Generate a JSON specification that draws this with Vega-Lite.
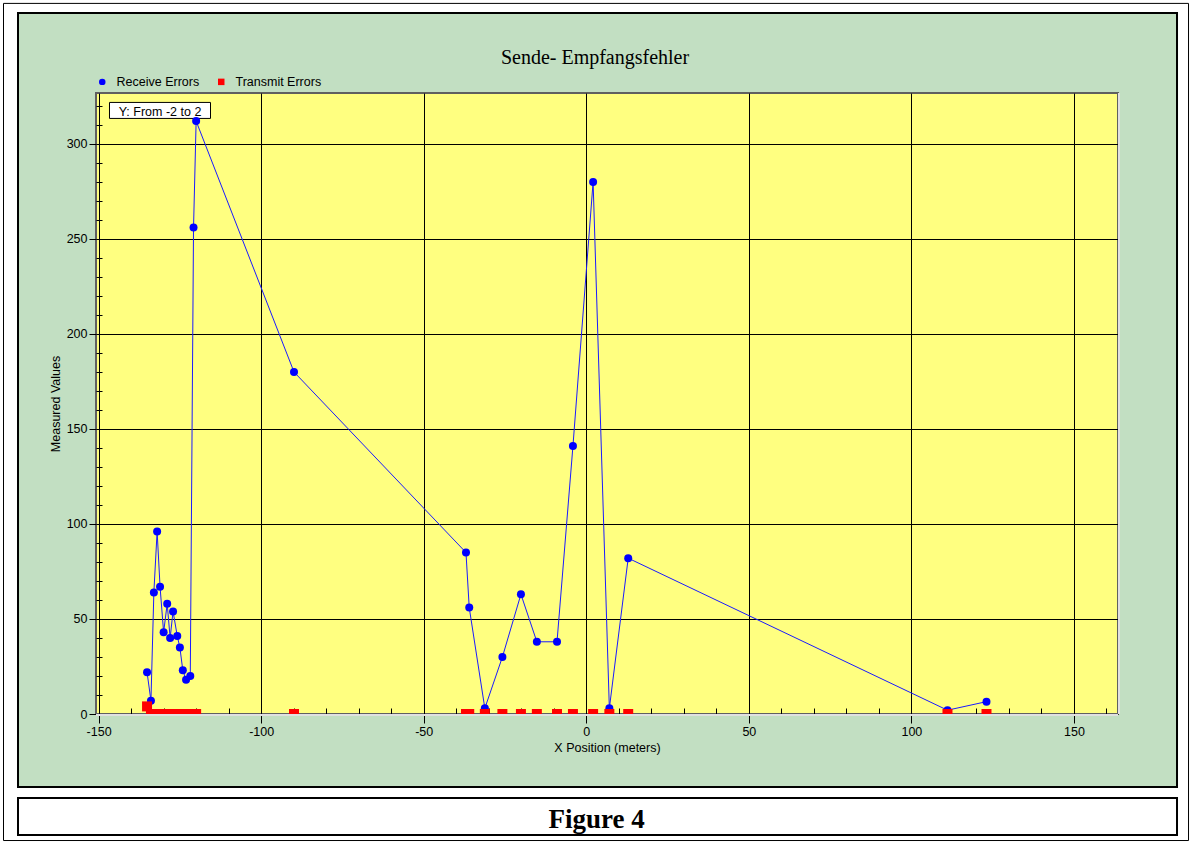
{
  "$schema": "https://vega.github.io/schema/vega-lite/v6.json",
  "width": 1022,
  "height": 621,
  "autosize": {"type": "none"},
  "padding": {"left": 96, "top": 93, "right": 74, "bottom": 129},
  "background": "#c2dfc2",
  "config": {
    "view": {"fill": "#ffff80", "stroke": "#606060", "strokeWidth": 2},
    "font": "Liberation Sans"
  },
  "datasets": {
    "receive": [
      {"x": -135.1, "value": 22, "series": "Receive Errors"},
      {"x": -133.9, "value": 7, "series": "Receive Errors"},
      {"x": -133.0, "value": 64, "series": "Receive Errors"},
      {"x": -132.0, "value": 96, "series": "Receive Errors"},
      {"x": -131.1, "value": 67, "series": "Receive Errors"},
      {"x": -130.0, "value": 43, "series": "Receive Errors"},
      {"x": -128.9, "value": 58, "series": "Receive Errors"},
      {"x": -128.0, "value": 40, "series": "Receive Errors"},
      {"x": -127.1, "value": 54, "series": "Receive Errors"},
      {"x": -125.8, "value": 41, "series": "Receive Errors"},
      {"x": -125.0, "value": 35, "series": "Receive Errors"},
      {"x": -124.1, "value": 23, "series": "Receive Errors"},
      {"x": -123.1, "value": 18, "series": "Receive Errors"},
      {"x": -121.8, "value": 20, "series": "Receive Errors"},
      {"x": -120.8, "value": 256, "series": "Receive Errors"},
      {"x": -120.0, "value": 312, "series": "Receive Errors"},
      {"x": -89.9, "value": 180, "series": "Receive Errors"},
      {"x": -37.0, "value": 85, "series": "Receive Errors"},
      {"x": -36.0, "value": 56, "series": "Receive Errors"},
      {"x": -31.2, "value": 3, "series": "Receive Errors"},
      {"x": -25.8, "value": 30, "series": "Receive Errors"},
      {"x": -20.1, "value": 63, "series": "Receive Errors"},
      {"x": -15.2, "value": 38, "series": "Receive Errors"},
      {"x": -9.0, "value": 38, "series": "Receive Errors"},
      {"x": -4.1, "value": 141, "series": "Receive Errors"},
      {"x": 2.1, "value": 280, "series": "Receive Errors"},
      {"x": 7.1, "value": 3, "series": "Receive Errors"},
      {"x": 12.9, "value": 82, "series": "Receive Errors"},
      {"x": 111.1, "value": 2, "series": "Receive Errors"},
      {"x": 123.1, "value": 6.5, "series": "Receive Errors"}
    ],
    "transmit": [
      {"x": -135.1, "value": 4, "series": "Transmit Errors"},
      {"x": -133.9, "value": 0, "series": "Transmit Errors"},
      {"x": -133.0, "value": 0, "series": "Transmit Errors"},
      {"x": -132.0, "value": 0, "series": "Transmit Errors"},
      {"x": -131.1, "value": 0, "series": "Transmit Errors"},
      {"x": -130.0, "value": 0, "series": "Transmit Errors"},
      {"x": -128.9, "value": 0, "series": "Transmit Errors"},
      {"x": -128.0, "value": 0, "series": "Transmit Errors"},
      {"x": -127.1, "value": 0, "series": "Transmit Errors"},
      {"x": -125.8, "value": 0, "series": "Transmit Errors"},
      {"x": -125.0, "value": 0, "series": "Transmit Errors"},
      {"x": -124.1, "value": 0, "series": "Transmit Errors"},
      {"x": -123.1, "value": 0, "series": "Transmit Errors"},
      {"x": -121.8, "value": 0, "series": "Transmit Errors"},
      {"x": -120.8, "value": 0, "series": "Transmit Errors"},
      {"x": -120.0, "value": 0, "series": "Transmit Errors"},
      {"x": -89.9, "value": 0, "series": "Transmit Errors"},
      {"x": -37.0, "value": 0, "series": "Transmit Errors"},
      {"x": -36.0, "value": 0, "series": "Transmit Errors"},
      {"x": -31.2, "value": 0, "series": "Transmit Errors"},
      {"x": -25.8, "value": 0, "series": "Transmit Errors"},
      {"x": -20.1, "value": 0, "series": "Transmit Errors"},
      {"x": -15.2, "value": 0, "series": "Transmit Errors"},
      {"x": -9.0, "value": 0, "series": "Transmit Errors"},
      {"x": -4.1, "value": 0, "series": "Transmit Errors"},
      {"x": 2.1, "value": 0, "series": "Transmit Errors"},
      {"x": 7.1, "value": 0, "series": "Transmit Errors"},
      {"x": 12.9, "value": 0, "series": "Transmit Errors"},
      {"x": 111.1, "value": 0, "series": "Transmit Errors"},
      {"x": 123.1, "value": 0, "series": "Transmit Errors"}
    ]
  },
  "layer": [
    {
      "data": {"values": [{}]},
      "mark": {"type": "rect", "fill": "#ffffff", "stroke": "#000000", "strokeWidth": 1},
      "encoding": {
        "x": {"datum": -146.65, "type": "quantitative"},
        "x2": {"datum": -115.58},
        "y": {"datum": 321.84, "type": "quantitative"},
        "y2": {"datum": 313.42}
      }
    },
    {
      "data": {"values": [{"note": "Y: From -2 to 2"}]},
      "mark": {"type": "text", "font": "Liberation Sans", "fontSize": 12.5, "align": "center", "baseline": "alphabetic", "color": "#000000"},
      "encoding": {
        "x": {"datum": -131.11, "type": "quantitative"},
        "y": {"datum": 314.9, "type": "quantitative"},
        "text": {"field": "note"}
      }
    },
    {
      "data": {"name": "receive"},
      "mark": {"type": "line", "color": "#1a1aff", "strokeWidth": 1},
      "encoding": {
        "x": {
          "field": "x",
          "type": "quantitative",
          "scale": {"domain": [-150.8, 163.55], "nice": false, "zero": false},
          "axis": {
            "values": [-150, -140, -130, -120, -110, -100, -90, -80, -70, -60, -50, -40, -30, -20, -10, 0, 10, 20, 30, 40, 50, 60, 70, 80, 90, 100, 110, 120, 130, 140, 150, 160],
            "tickCount": 200,
            "title": "X Position (meters)",
            "labelExpr": "datum.value % 50 === 0 ? '' + datum.value : ''",
            "labelFlush": false,
            "labelOverlap": false,
            "domain": false,
            "grid": true,
            "gridColor": "#000000",
            "gridWidth": 1,
            "gridOpacity": {"condition": {"test": "datum.value % 50 === 0", "value": 1}, "value": 0},
            "tickColor": "#000000",
            "tickWidth": 1,
            "tickSize": {"condition": {"test": "datum.value % 50 === 0", "value": 9}, "value": -6},
            "labelFont": "Liberation Sans",
            "labelFontSize": 12.5,
            "labelColor": "#000000",
            "labelPadding": 2,
            "titleFont": "Liberation Sans",
            "titleFontSize": 12.5,
            "titleFontWeight": "normal",
            "titleColor": "#000000",
            "titlePadding": 4
          }
        },
        "y": {
          "field": "value",
          "type": "quantitative",
          "scale": {"domain": [0, 326.8], "nice": false, "zero": false},
          "axis": {
            "values": [0, 10, 20, 30, 40, 50, 60, 70, 80, 90, 100, 110, 120, 130, 140, 150, 160, 170, 180, 190, 200, 210, 220, 230, 240, 250, 260, 270, 280, 290, 300, 310, 320],
            "tickCount": 200,
            "title": "Measured Values",
            "labelExpr": "datum.value % 50 === 0 ? '' + datum.value : ''",
            "labelFlush": false,
            "labelOverlap": false,
            "domain": false,
            "grid": true,
            "gridColor": "#000000",
            "gridWidth": 1,
            "gridOpacity": {"condition": {"test": "datum.value % 50 === 0", "value": 1}, "value": 0},
            "tickColor": "#000000",
            "tickWidth": 1,
            "tickSize": {"condition": {"test": "datum.value % 50 === 0", "value": 7}, "value": -6},
            "labelFont": "Liberation Sans",
            "labelFontSize": 12.5,
            "labelColor": "#000000",
            "labelPadding": 2,
            "titleFont": "Liberation Sans",
            "titleFontSize": 12.5,
            "titleFontWeight": "normal",
            "titleColor": "#000000",
            "titlePadding": 4
          }
        }
      }
    },
    {
      "data": {"name": "receive"},
      "mark": {"type": "point", "filled": true, "size": 64, "opacity": 1},
      "encoding": {
        "x": {"field": "x", "type": "quantitative"},
        "y": {"field": "value", "type": "quantitative"},
        "color": {
          "field": "series",
          "type": "nominal",
          "scale": {"domain": ["Receive Errors", "Transmit Errors"], "range": ["#0000ff", "#ff0000"]},
          "legend": {
            "title": null,
            "orient": "none",
            "legendX": 0,
            "legendY": -17.5,
            "direction": "horizontal",
            "symbolSize": 42,
            "symbolStrokeWidth": 0,
            "labelFont": "Liberation Sans",
            "labelFontSize": 12.5,
            "labelColor": "#000000",
            "labelOffset": 8,
            "columnPadding": 15,
            "padding": 0
          }
        },
        "shape": {
          "field": "series",
          "type": "nominal",
          "scale": {"domain": ["Receive Errors", "Transmit Errors"], "range": ["circle", "square"]}
        }
      }
    },
    {
      "data": {"name": "transmit"},
      "mark": {"type": "point", "filled": true, "size": 100, "opacity": 1, "clip": true},
      "encoding": {
        "x": {"field": "x", "type": "quantitative"},
        "y": {"field": "value", "type": "quantitative"},
        "color": {"field": "series", "type": "nominal"},
        "shape": {"field": "series", "type": "nominal"}
      }
    },
    {
      "data": {"values": [{}]},
      "mark": {"type": "rule", "color": "#e0e0e0", "strokeWidth": 2, "yOffset": 1},
      "encoding": {
        "x": {"datum": -150.8, "type": "quantitative"},
        "x2": {"datum": 163.55},
        "y": {"datum": 0, "type": "quantitative"}
      }
    },
    {
      "data": {"values": [{}]},
      "mark": {"type": "rule", "color": "#e0e0e0", "strokeWidth": 2, "xOffset": 1},
      "encoding": {
        "x": {"datum": 163.55, "type": "quantitative"},
        "y": {"datum": 0, "type": "quantitative"},
        "y2": {"datum": 326.8}
      }
    },
    {
      "data": {"values": [{}]},
      "mark": {"type": "rect", "filled": false, "color": "#ffffff", "strokeWidth": 120},
      "encoding": {
        "x": {"datum": -193.55, "type": "quantitative"},
        "x2": {"datum": 200.47},
        "y": {"datum": 401.05, "type": "quantitative"},
        "y2": {"datum": -70.53}
      }
    },
    {
      "data": {"values": [{}]},
      "mark": {"type": "rect", "filled": false, "color": "#000000", "strokeWidth": 1},
      "encoding": {
        "x": {"datum": -179.25, "type": "quantitative"},
        "x2": {"datum": 185.24},
        "y": {"datum": 373.95, "type": "quantitative"},
        "y2": {"datum": -66.58}
      }
    },
    {
      "data": {"values": [{}]},
      "mark": {"type": "rect", "filled": false, "color": "#000000", "strokeWidth": 2},
      "encoding": {
        "x": {"datum": -174.79, "type": "quantitative"},
        "x2": {"datum": 181.70},
        "y": {"datum": 368.95, "type": "quantitative"},
        "y2": {"datum": -38.42}
      }
    },
    {
      "data": {"values": [{"title": "Sende- Empfangsfehler"}]},
      "mark": {"type": "text", "font": "Liberation Serif", "fontSize": 20, "align": "center", "baseline": "alphabetic", "color": "#000000"},
      "encoding": {
        "x": {"datum": 2.69, "type": "quantitative"},
        "y": {"datum": 342.1, "type": "quantitative"},
        "text": {"field": "title"}
      }
    },
    {
      "data": {"values": [{}]},
      "mark": {"type": "rect", "fill": "#ffffff", "stroke": "#000000", "strokeWidth": 2},
      "encoding": {
        "x": {"datum": -174.79, "type": "quantitative"},
        "x2": {"datum": 181.70},
        "y": {"datum": -44.21, "type": "quantitative"},
        "y2": {"datum": -63.68}
      }
    },
    {
      "data": {"values": [{"caption": "Figure 4"}]},
      "mark": {"type": "text", "font": "Liberation Serif", "fontSize": 27, "fontWeight": "bold", "align": "center", "baseline": "alphabetic", "color": "#000000"},
      "encoding": {
        "x": {"datum": 3.15, "type": "quantitative"},
        "y": {"datum": -60.0, "type": "quantitative"},
        "text": {"field": "caption"}
      }
    }
  ]
}
